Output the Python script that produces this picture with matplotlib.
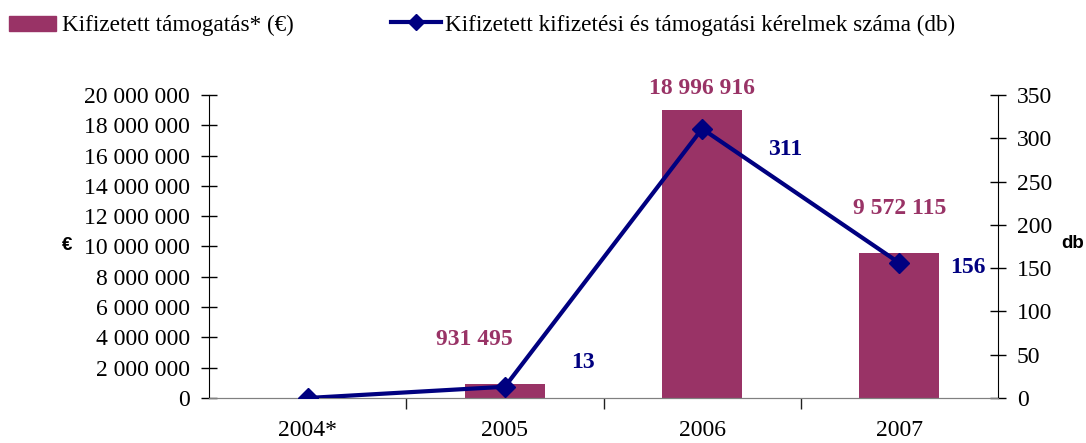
import matplotlib
matplotlib.use("Agg")
import matplotlib.pyplot as plt
from matplotlib.ticker import FuncFormatter, FixedLocator
from matplotlib.patches import Rectangle
from matplotlib.lines import Line2D

# ---- data ----
categories = ["2004*", "2005", "2006", "2007"]
support_eur = [0, 931495, 18996916, 9572115]
requests_db = [0, 13, 311, 156]
bar_labels = ["", "931 495", "18 996 916", "9 572 115"]
line_labels = ["", "13", "311", "156"]
legend_bar = "Kifizetett támogatás* (€)"
legend_line = "Kifizetett kifizetési és támogatási kérelmek száma (db)"
left_ticks = list(range(0, 20000001, 2000000))
right_ticks = list(range(0, 351, 50))

# ---- style ----
BAR_C = "#993366"
LINE_C = "#000080"
SERIF = "Liberation Serif"
FS = 17
LFS = 16.7

# label offsets in pixels (style only)
bar_off = [(0, 0), (-30, 44), (0, 22), (0, 44)]
line_off = [(0, 0), (78, 24), (83, -21), (69, -5)]

W, H = 1086, 443
fig = plt.figure(figsize=(W / 100, H / 100), dpi=100)
ax = fig.add_axes([209 / W, (H - 398) / H, (998 - 209) / W, (398 - 95) / H])
ax2 = ax.twinx()

x = list(range(len(categories)))
ax.bar(x, support_eur, width=0.406, color=BAR_C, zorder=2)
ax.set_xlim(-0.5, len(categories) - 0.5)
ax.set_ylim(0, 20000000)
ax.set_yticks(left_ticks)
ax.yaxis.set_major_formatter(FuncFormatter(lambda v, p: f"{int(v):,}".replace(",", " ")))

ax2.plot(x, requests_db, color=LINE_C, lw=3, marker="D", ms=10,
         markerfacecolor=LINE_C, markeredgecolor=LINE_C, zorder=3)
ax2.set_ylim(0, 350)
ax2.set_yticks(right_ticks)

# x ticks: labels at centers, tick marks at boundaries
ax.set_xticks(x)
ax.set_xticklabels(categories, fontfamily=SERIF, fontsize=FS)
ax.tick_params(axis="x", which="major", length=0, pad=16)
ax.xaxis.set_minor_locator(FixedLocator([i + 0.5 for i in x[:-1]]))
ax.tick_params(axis="x", which="minor", length=8, direction="out", color="#202020", width=1)

for a in (ax, ax2):
    a.spines["top"].set_visible(False)
ax.spines["bottom"].set_color("#808080")
ax2.spines["bottom"].set_color("#808080")
ax.spines["left"].set_color("#000000")
ax2.spines["right"].set_color("#000000")
ax.spines["right"].set_visible(False)
ax2.spines["left"].set_visible(False)

ax.tick_params(axis="y", direction="inout", length=11, width=1, pad=8, labelsize=FS)
ax2.tick_params(axis="y", direction="inout", length=11, width=1, pad=8, labelsize=FS)
for lab in ax.get_yticklabels() + ax2.get_yticklabels():
    lab.set_fontfamily(SERIF)

# data labels
for i, (v, t) in enumerate(zip(support_eur, bar_labels)):
    if t:
        ax.annotate(t, (x[i], v), xytext=bar_off[i], textcoords="offset pixels",
                    ha="center", va="center", color=BAR_C, fontweight="bold",
                    fontfamily=SERIF, fontsize=FS, zorder=5)
for i, (v, t) in enumerate(zip(requests_db, line_labels)):
    if t:
        ax2.annotate(t, (x[i], v), xytext=line_off[i], textcoords="offset pixels",
                     ha="center", va="center", color=LINE_C, fontweight="bold",
                     fontfamily=SERIF, fontsize=FS, zorder=5)

# axis unit labels
fig.text(67 / W, 1 - 246 / H, "€", ha="center", va="center", fontweight="bold",
         fontfamily="Liberation Sans", fontsize=13.5)
fig.text(1073 / W, 1 - 244 / H, "db", ha="center", va="center", fontweight="bold",
         fontfamily="Liberation Sans", fontsize=13.5)

# legend (overlay in pixel coordinates)
lg = fig.add_axes([0, 0, 1, 1], zorder=10)
lg.set_xlim(0, W)
lg.set_ylim(H, 0)
lg.axis("off")
lg.add_patch(Rectangle((9, 16), 47, 15, color=BAR_C))
lg.text(62, 31, legend_bar, fontfamily=SERIF, fontsize=LFS, va="baseline", ha="left")
lg.add_line(Line2D([391, 441], [22, 22], color=LINE_C, lw=3))
lg.add_line(Line2D([416], [22], color=LINE_C, marker="D", ms=8))
lg.text(445, 31, legend_line, fontfamily=SERIF, fontsize=LFS, va="baseline", ha="left")

fig.savefig("out.png", dpi=100)
